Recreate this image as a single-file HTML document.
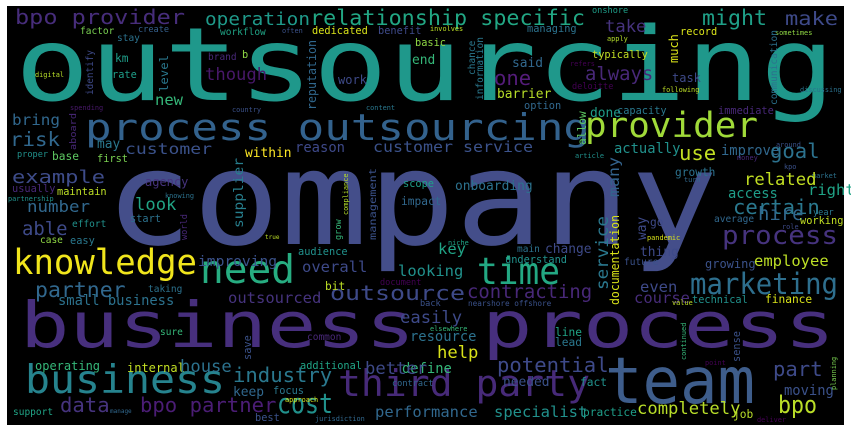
<!DOCTYPE html>
<html><head><meta charset="utf-8"><style>
html,body{margin:0;padding:0;background:#fff;width:851px;height:432px;overflow:hidden}
svg{display:block}
text{font-family:"DejaVu Sans Mono","Liberation Mono",monospace}
</style></head><body>
<svg id="cloud" width="851" height="432" viewBox="0 0 851 432" xmlns="http://www.w3.org/2000/svg">
<rect x="7" y="6" width="837" height="419" fill="#000"/>
</svg>
<script>
// [text, x, y, size, color, width(0=auto), vertical]
const words = [
["outsourcing",15,100,118,"#1f988b",820,0],
["company",105,244,152,"#444e8a",613,0],
["business",20,347,74,"#472f7d",395,0],
["process",482,347,74,"#472f7d",353,0],
["team",605,403,75,"#3e5d8b",150,0],
["process outsourcing",85,140,42,"#33628d",505,0],
["provider",585,137,40,"#a0da39",173,0],
["knowledge",13,274,40,"#f0e51c",184,0],
["need",200,283,46,"#27ad81",95,0],
["business",25,393,46,"#26838e",200,0],
["third party",338,396,42,"#472a79",252,0],
["time",477,284,44,"#23a883",83,0],
["marketing",690,294,34,"#2e6f8e",148,0],
["process",722,244,30,"#46337e",116,0],
["cost",277,413,32,"#21918c",56,0],
["bpo",778,413,28,"#bade28",39,0],
["bpo provider",15,24,24,"#472d7b",170,0],
["operation",205,25,21,"#1f9a8a",105,0],
["relationship specific",310,25,25,"#22a784",275,0],
["might",702,25,25,"#1fa088",65,0],
["make",785,25,22,"#3e4a89",53,0],
["onshore",592,13,10,"#1f9e89",0,0],
["customer",125,154,18,"#3b528b",87,0],
["reason",295,152,17,"#3e4989",50,0],
["customer service",373,152,18,"#3b528b",160,0],
["example",12,183,21,"#3e4c8a",93,0],
["number",27,212,19,"#31688e",63,0],
["risk",10,146,23,"#31688e",50,0],
["bring",12,125,18,"#31688e",48,0],
["may",97,148,15,"#2a788e",0,0],
["factor",80,34,11,"#7ad151",0,0],
["create",138,32,10,"#35608d",0,0],
["stay",117,41,11,"#2c728e",0,0],
["workflow",220,35,11,"#20a486",0,0],
["often",282,33,8,"#3b528b",0,0],
["dedicated",312,34,12,"#d8e219",0,0],
["benefit",378,34,12,"#3e4a89",0,0],
["basic",415,46,12,"#8fd744",0,0],
["end",412,64,15,"#35b779",0,0],
["km",115,62,13,"#1f9e89",0,0],
["b",242,58,12,"#8fd744",0,0],
["brand",208,60,11,"#482878",0,0],
["though",205,80,20,"#48186a",0,0],
["rate",112,78,12,"#1f9e89",0,0],
["digital",35,77,8,"#b8de29",0,0],
["work",338,84,14,"#3e4a89",0,0],
["new",155,105,18,"#35b779",0,0],
["spending",70,110,8,"#48186a",0,0],
["country",232,112,8,"#3b528b",0,0],
["content",366,110,8,"#2a788e",0,0],
["proper",17,157,10,"#21918c",0,0],
["base",52,160,13,"#5ec962",0,0],
["first",97,162,12,"#7ad151",0,0],
["within",245,157,15,"#fde725",0,0],
["usually",12,192,12,"#482878",0,0],
["maintain",57,195,12,"#bddf26",0,0],
["partnership",8,201,8,"#21918c",0,0],
["agency",145,186,14,"#46337e",0,0],
["look",135,210,20,"#21a585",0,0],
["knowing",165,198,8,"#2c728e",0,0],
["scope",403,187,12,"#1f9e89",0,0],
["impact",401,205,13,"#31688e",0,0],
["take",605,32,20,"#46337e",0,0],
["managing",527,32,12,"#2c728e",0,0],
["involves",430,31,8,"#bddf26",0,0],
["record",680,35,12,"#d8e219",0,0],
["sometimes",775,35,8,"#8fd744",0,0],
["apply",607,41,8,"#b5de2b",0,0],
["typically",592,58,12,"#c2df23",0,0],
["said",512,67,15,"#31688e",0,0],
["refers",570,66,8,"#440154",0,0],
["one",494,85,24,"#541c7a",0,0],
["always",585,80,22,"#482878",0,0],
["task",672,82,14,"#3e4a89",0,0],
["barrier",497,98,15,"#b8de29",0,0],
["deloitte",572,89,10,"#440154",0,0],
["following",662,92,8,"#bddf26",0,0],
["discussing",800,92,8,"#2c728e",0,0],
["option",524,109,12,"#31688e",0,0],
["done",590,117,15,"#1f9e89",0,0],
["capacity",617,114,12,"#2a788e",0,0],
["immediate",718,114,12,"#482878",0,0],
["actually",614,153,16,"#21918c",0,0],
["use",679,160,24,"#c2df23",0,0],
["improve",721,155,16,"#31688e",0,0],
["goal",770,158,24,"#2c728e",0,0],
["around",776,147,8,"#3b528b",0,0],
["article",575,158,8,"#21918c",0,0],
["money",737,160,8,"#482878",0,0],
["growth",675,176,13,"#2c728e",0,0],
["kpo",784,169,8,"#3b528b",0,0],
["market",812,178,8,"#2c728e",0,0],
["turn",684,182,8,"#31688e",0,0],
["onboarding",455,190,15,"#2c728e",0,0],
["related",744,185,20,"#c2df23",0,0],
["access",728,198,16,"#1f9e89",0,0],
["right",808,195,18,"#20a386",0,0],
["certain",733,214,24,"#2a788e",0,0],
["hire",758,220,22,"#31688e",0,0],
["year",813,215,10,"#2a788e",0,0],
["average",714,222,11,"#31688e",0,0],
["working",800,224,12,"#c2df23",0,0],
["role",782,229,8,"#3e4a89",0,0],
["go",650,226,13,"#3e4a89",0,0],
["pandemic",647,240,8,"#d8e219",0,0],
["niche",448,245,8,"#20a486",0,0],
["key",438,254,18,"#20a486",0,0],
["main",517,252,11,"#2c728e",0,0],
["change",545,253,15,"#3e4a89",0,0],
["thing",640,256,15,"#3e4a89",0,0],
["understand",505,263,12,"#21918c",0,0],
["future",624,265,11,"#3b528b",0,0],
["growing",705,268,14,"#3b528b",0,0],
["employee",754,266,18,"#bddf26",0,0],
["looking",398,276,18,"#21918c",0,0],
["document",380,285,10,"#440154",0,0],
["even",640,292,18,"#3e4a89",0,0],
["course",634,303,18,"#472c7a",0,0],
["outsource",330,300,24,"#3e4a89",135,0],
["contracting",467,298,22,"#482878",0,0],
["technical",692,303,12,"#21918c",0,0],
["finance",765,303,13,"#d8e219",0,0],
["back",420,306,10,"#3b528b",0,0],
["nearshore offshore",468,306,9,"#3b528b",0,0],
["value",672,305,8,"#bddf26",0,0],
["easily",400,323,20,"#3e4a89",0,0],
["elsewhere",430,331,8,"#35b779",0,0],
["resource",410,341,16,"#2c728e",0,0],
["line",555,336,13,"#20a486",0,0],
["lead",555,346,13,"#2a788e",0,0],
["help",437,358,20,"#d8e219",0,0],
["define",402,373,16,"#35b779",0,0],
["potential",497,372,24,"#3e4a89",0,0],
["part",773,376,24,"#3e4a89",0,0],
["needed",503,386,15,"#3b528b",0,0],
["fact",580,386,13,"#21918c",0,0],
["contract",392,386,10,"#31688e",0,0],
["point",705,365,8,"#440154",0,0],
["moving",784,395,16,"#3b528b",0,0],
["specialist",494,417,18,"#21918c",0,0],
["practice",583,416,13,"#1f9e89",0,0],
["completely",637,414,20,"#b8de29",0,0],
["job",733,418,13,"#b8de29",0,0],
["deliver",757,422,8,"#440154",0,0],
["performance",375,417,18,"#31688e",0,0],
["able",22,235,22,"#3e4a89",0,0],
["effort",72,227,11,"#21918c",0,0],
["start",130,222,12,"#2c728e",0,0],
["case",40,243,11,"#8fd744",0,0],
["easy",70,244,12,"#2a788e",0,0],
["true",265,239,7,"#bddf26",0,0],
["improving",198,266,17,"#3b528b",0,0],
["audience",298,255,12,"#21918c",0,0],
["overall",302,272,18,"#3e4a89",0,0],
["partner",35,297,25,"#31688e",0,0],
["taking",148,292,11,"#2c728e",0,0],
["bit",325,290,13,"#bddf26",0,0],
["small business",58,305,16,"#2c728e",0,0],
["outsourced",228,303,18,"#46337e",0,0],
["sure",160,335,11,"#35b779",0,0],
["common",307,340,11,"#482878",0,0],
["operating",35,370,14,"#35b779",0,0],
["internal",127,372,14,"#c2df23",0,0],
["house",180,372,20,"#2c728e",0,0],
["additional",300,369,12,"#20a486",0,0],
["industry",233,382,24,"#2a788e",0,0],
["better",365,374,20,"#3e4a89",0,0],
["keep",233,396,15,"#31688e",0,0],
["focus",273,394,12,"#2a788e",0,0],
["approach",285,402,8,"#d8e219",0,0],
["data",60,412,24,"#46337e",0,0],
["bpo partner",140,412,24,"#4b1d75",0,0],
["support",13,415,11,"#20a486",0,0],
["manage",110,413,7,"#31688e",0,0],
["best",255,421,12,"#3b528b",0,0],
["jurisdiction",315,421,8,"#31688e",0,0],
["service",608,290,20,"#2a788e",74,1],
["documentation",619,305,14,"#d8e219",90,1],
["reputation",316,110,14,"#31688e",70,1],
["level",168,92,13,"#2a788e",37,1],
["identify",93,95,11,"#3e4a89",45,1],
["aboard",76,150,10,"#482878",37,1],
["supplier",243,228,15,"#277f8e",70,1],
["management",376,240,11,"#3b528b",72,1],
["compliance",348,215,8,"#b5de2b",0,1],
["chance",475,75,11,"#2a788e",0,1],
["information",483,100,11,"#2a788e",0,1],
["much",678,63,14,"#d8e219",0,1],
["communication",777,105,11,"#2c728e",75,1],
["allow",586,145,13,"#5ec962",0,1],
["many",619,197,18,"#33638d",40,1],
["way",646,240,15,"#3e4a89",0,1],
["continued",686,360,8,"#35b779",0,1],
["sense",740,362,12,"#3b528b",0,1],
["planning",836,390,8,"#7ad151",0,1],
["save",251,360,12,"#3b528b",0,1],
["world",187,240,10,"#482878",0,1],
["grow",341,240,10,"#35b779",0,1]
];
const SCALE = 0.86;
const svg = document.getElementById('cloud');
const NS = 'http://www.w3.org/2000/svg';
words.forEach(function(w){
  const el = document.createElementNS(NS,'text');
  el.textContent = w[0];
  el.setAttribute('font-size', (w[3] * SCALE).toFixed(1));
  el.setAttribute('fill', w[4]);
  if (w[6]) {
    el.setAttribute('transform','translate(' + w[1] + ',' + w[2] + ') rotate(-90)');
    el.setAttribute('x', 0);
    el.setAttribute('y', 0);
  } else {
    el.setAttribute('x', w[1]);
    el.setAttribute('y', w[2]);
  }
  if (w[5]) {
    el.setAttribute('textLength', w[5]);
    el.setAttribute('lengthAdjust', 'spacingAndGlyphs');
  }
  
  
  svg.appendChild(el);
});
</script>
</body></html>
